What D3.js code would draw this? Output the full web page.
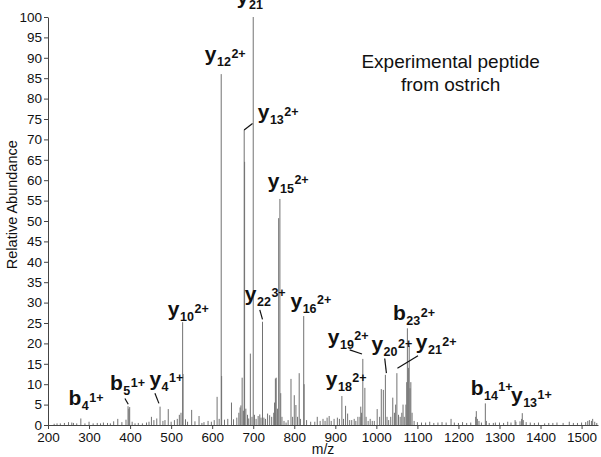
<!DOCTYPE html>
<html>
<head>
<meta charset="utf-8">
<script src="https://cdn.jsdelivr.net/npm/d3@7"></script>
<style>
  body { margin: 0; background: #fff; }
  svg { display: block; font-family: Arial, "Liberation Sans", Helvetica, sans-serif; }
</style>
</head>
<body>
<svg id="chart" width="601" height="457"></svg>
<script>
// peak list: [m/z, relative abundance]
const peaks = [
  [215, 0.3], [222, 0.4], [230, 0.4], [240, 0.5], [250, 0.7], [258, 0.6], [262, 0.5], [270, 0.4],
  [280, 1.6], [290, 0.4], [300, 0.8], [310, 0.4], [320, 0.5], [328, 0.4], [335, 0.6], [345, 0.5],
  [352, 0.4], [360, 0.9], [370, 1.5], [380, 0.7], [390, 1.3], [395, 4.6], [397, 4.0], [399, 4.4],
  [405, 0.8], [412, 0.4], [420, 0.5], [430, 0.4], [440, 0.6], [446, 0.8], [452, 2.0], [458, 1.2],
  [465, 1.6], [473, 4.5], [480, 1.0], [485, 1.2], [493, 3.9], [500, 0.8], [508, 1.2], [515, 1.5],
  [520, 2.5], [524, 3.0], [528, 25.2], [529, 12.5], [535, 1.4], [540, 0.8], [550, 3.7], [558, 0.9],
  [568, 2.2], [575, 0.5], [580, 0.7], [590, 1.0], [598, 0.8], [605, 1.2], [612, 6.9], [617, 1.5],
  [622, 86], [623, 12], [630, 1.3], [638, 1.5], [647, 5.5], [652, 1.4], [660, 1.8], [665, 3.0],
  [668, 4.3], [670, 4.8], [673, 11.6], [676, 3.5], [678, 72.3], [679, 64.5], [682, 4.0], [686, 2.5],
  [689, 1.6], [693, 17.5], [697, 2.0], [700, 100], [703, 2.5], [707, 1.5], [712, 2.2], [716, 2.6],
  [719, 1.8], [722.6, 25.3], [726, 1.8], [730, 1.5], [735, 2.8], [740, 2.4], [745, 2.0], [750, 3.0],
  [752, 5.5], [754, 11.4], [756, 11.6], [759, 4.0], [762, 50.7], [765, 55.4], [767, 7.8], [770, 2.0],
  [775, 1.0], [780, 0.6], [785, 1.2], [792, 11.3], [796, 2.0], [800, 7.3], [804, 4.9], [808, 2.0],
  [812, 12.7], [815, 1.5], [823, 26.7], [824, 10], [830, 1.2], [840, 0.8], [850, 0.8], [856, 2.0],
  [863, 1.0], [870, 1.5], [875, 1.0], [880, 1.8], [885, 2.2], [890, 1.0], [897, 1.5], [905, 1.8],
  [910, 1.5], [916, 7.1], [920, 1.5], [925, 4.7], [930, 2.8], [935, 1.2], [940, 1.2], [946, 1.5],
  [950, 1.0], [955, 2.0], [960, 2.0], [962, 4.5], [964, 3.0], [967, 16.2], [972, 9.1], [975, 2.0],
  [980, 1.0], [985, 1.5], [990, 1.0], [995, 1.0], [1002, 3.9], [1008, 2.0], [1012, 8.8], [1017, 8.6],
  [1022, 12.3], [1026, 2.0], [1030, 1.2], [1035, 2.0], [1040, 6.7], [1044, 3.0], [1047, 5.0],
  [1050, 12.7], [1054, 2.5], [1058, 2.0], [1062, 3.0], [1065, 5.0], [1068, 2.0], [1072, 5.0],
  [1074, 10.5], [1075.6, 23.7], [1078, 14.0], [1080, 19.4], [1082, 9.0], [1084, 10.5], [1087, 3.0],
  [1092, 1.0], [1100, 0.7], [1110, 0.6], [1120, 0.6], [1130, 0.8], [1140, 0.5], [1150, 0.6],
  [1160, 0.7], [1170, 0.6], [1182, 1.5], [1190, 0.6], [1200, 0.5], [1210, 0.7], [1220, 0.5],
  [1230, 0.6], [1242, 2.0], [1243.5, 3.4], [1246, 1.5], [1250, 1.0], [1256, 0.6], [1265.5, 5.3],
  [1268, 1.0], [1275, 0.5], [1285, 0.5], [1290, 0.6], [1300, 0.6], [1310, 0.5], [1320, 0.8],
  [1328, 0.6], [1338, 1.2], [1340, 0.8], [1350, 0.9], [1354, 1.5], [1355.5, 2.9], [1358, 1.2],
  [1365, 0.7], [1375, 0.6], [1385, 0.5], [1395, 0.6], [1410, 0.4], [1420, 0.5], [1430, 0.5],
  [1440, 0.6], [1455, 0.5], [1470, 0.8], [1480, 0.5], [1490, 0.5], [1500, 0.6], [1510, 0.7],
  [1515, 1.0], [1519, 1.2], [1524, 1.0], [1527, 1.5], [1532, 0.8], [1537, 0.5]
];

// ion labels: [ion, subscript, charge, label m/z, label abundance]
const ionLabels = [
  ["y", "21", "2+", 660, 103.2],
  ["y", "12", "2+", 582, 89.2],
  ["y", "13", "2+", 711, 75],
  ["y", "15", "2+", 735.5, 58.1],
  ["y", "22", "3+", 679.5, 30.4],
  ["y", "16", "2+", 790.8, 28.7],
  ["y", "10", "2+", 492, 26.7],
  ["b", "4", "1+", 250, 4.8],
  ["b", "5", "1+", 351, 8.5],
  ["y", "4", "1+", 447, 9.6],
  ["y", "19", "2+", 881.6, 19.9],
  ["y", "20", "2+", 988, 18.1],
  ["y", "21", "2+", 1096, 18.6],
  ["b", "23", "2+", 1040.5, 25.7],
  ["y", "18", "2+", 876.7, 9.6],
  ["b", "14", "1+", 1229.7, 7.4],
  ["y", "13", "1+", 1328, 5.6]
];

// leader lines: [m/z from, abundance from, m/z to, abundance to]
const leaders = [
  [677.8, 72.3, 698.3, 73.9],
  [716, 28.2, 722.6, 25.9],
  [387.4, 6.5, 395.5, 5.1],
  [460.5, 7.8, 470.2, 5.3],
  [935, 18.4, 965, 17.4],
  [1020.4, 16.3, 1024.5, 12.7],
  [1101.4, 17, 1051.3, 13.9]
];

const xTicks = d3.range(200, 1501, 100);
const yTicks = d3.range(0, 101, 5);
const titleLines = ["Experimental peptide", "from ostrich"];

const svg = d3.select("#chart");
const x = d3.scaleLinear().domain([200, 1540]).range([48, 598]);
const y = d3.scaleLinear().domain([0, 100]).range([425, 17]);

// spectrum
svg.append("g")
  .selectAll("line")
  .data(peaks)
  .join("line")
  .attr("x1", d => x(d[0]))
  .attr("x2", d => x(d[0]))
  .attr("y1", y(0))
  .attr("y2", d => y(d[1]))
  .attr("stroke", "#727272")
  .attr("stroke-width", 1);

// axes
const yAxis = svg.append("g")
  .attr("transform", `translate(${x(200)},0)`)
  .call(d3.axisLeft(y).tickValues(yTicks).tickSize(4).tickPadding(2).tickSizeOuter(0));
const xAxis = svg.append("g")
  .attr("transform", `translate(0,${y(0)})`)
  .call(d3.axisBottom(x).tickValues(xTicks).tickFormat(d3.format("d"))
    .tickSize(4).tickPadding(3).tickSizeOuter(0));

[yAxis, xAxis].forEach(g => {
  g.select(".domain").attr("stroke", "#444");
  g.selectAll(".tick line").attr("stroke", "#444");
  g.selectAll(".tick text")
    .attr("fill", "#111")
    .style("font-size", "13.5px")
    .style("font-family", "Arial, 'Liberation Sans', sans-serif");
});

svg.append("text")
  .attr("transform", `translate(17,${y(54)}) rotate(-90)`)
  .attr("text-anchor", "middle")
  .style("font-size", "14.5px")
  .attr("fill", "#111")
  .text("Relative Abundance");

svg.append("text")
  .attr("x", x(870))
  .attr("y", 454)
  .attr("text-anchor", "middle")
  .style("font-size", "14px")
  .attr("fill", "#111")
  .text("m/z");

// title
svg.append("text")
  .attr("text-anchor", "middle")
  .style("font-size", "19px")
  .attr("fill", "#111")
  .selectAll("tspan")
  .data(titleLines)
  .join("tspan")
  .attr("x", x(1181))
  .attr("y", (d, i) => 68 + i * 22.5)
  .text(d => d);

// leader lines
svg.append("g")
  .selectAll("line")
  .data(leaders)
  .join("line")
  .attr("x1", d => x(d[0]))
  .attr("y1", d => y(d[1]))
  .attr("x2", d => x(d[2]))
  .attr("y2", d => y(d[3]))
  .attr("stroke", "#111")
  .attr("stroke-width", 1.2);

// ion labels
const lab = svg.append("g")
  .selectAll("text")
  .data(ionLabels)
  .join("text")
  .attr("x", d => x(d[3]))
  .attr("y", d => y(d[4]))
  .attr("fill", "#111")
  .attr("font-weight", "bold");

lab.append("tspan").style("font-size", "21px").text(d => d[0]);
lab.append("tspan").style("font-size", "12.5px").attr("dx", 0.5).attr("dy", 5).text(d => d[1]);
lab.append("tspan").style("font-size", "12.5px").attr("dx", 0.5).attr("dy", -8.5).text(d => d[2]);
</script>
</body>
</html>
